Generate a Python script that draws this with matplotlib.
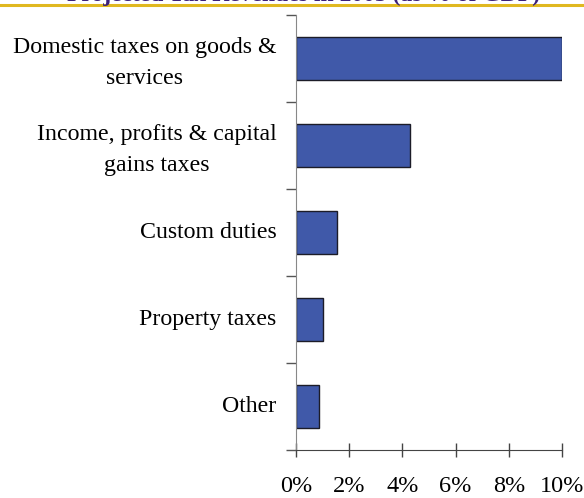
import numpy as np
import matplotlib.pyplot as plt
import matplotlib.transforms as mtransforms
from matplotlib.ticker import MultipleLocator, FuncFormatter

# Revenue categories (top to bottom) and their share of GDP, in percent
categories = ["Domestic taxes on goods &\nservices",
              "Income, profits & capital\ngains taxes",
              "Custom duties",
              "Property taxes",
              "Other"]
share_gdp = [10.0, 4.3, 1.55, 1.02, 0.88]
x_ticks = [0, 2, 4, 6, 8, 10]
title = "Projected Tax Revenues in 2005 (as % of GDP)"

plt.rcParams['font.family'] = ['Liberation Serif', 'DejaVu Serif']

fig = plt.figure(figsize=(5.84, 4.98), dpi=100)
ax = fig.add_axes([296/584, 1 - 450/498, 266/584, 435/498])

pos = np.arange(len(categories))[::-1]
ax.barh(pos, share_gdp, height=0.5, color='#4059A9', edgecolor='#1c1c28', linewidth=1.0)

ax.set_xlim(0, 10)
ax.set_ylim(-0.5, len(categories) - 0.5)
ax.set_xticks(x_ticks)
ax.xaxis.set_major_formatter(FuncFormatter(lambda v, _: f"{v:.0f}%"))
ax.tick_params(axis='x', direction='inout', length=10, width=1, color='#444444',
               labelsize=17.5, pad=14)

ax.set_yticks(pos)
ax.set_yticklabels(categories)
ax.yaxis.set_minor_locator(MultipleLocator(1, offset=0.5))
ax.tick_params(axis='y', which='major', length=0, labelsize=17.2, pad=14)
ax.tick_params(axis='y', which='minor', length=7, width=1, color='#555555')
nudge = mtransforms.ScaledTranslation(0, 3/100, fig.dpi_scale_trans)
for lab in ax.get_yticklabels():
    lab.set_multialignment('center')
    lab.set_linespacing(1.6)
    lab.set_transform(lab.get_transform() + nudge)

for side in ('top', 'right'):
    ax.spines[side].set_visible(False)
ax.spines['left'].set_color('#888888')
ax.spines['bottom'].set_color('#444444')

# header strip: title clipped at the top edge with a gold rule under it
fig.text(0.52, 1 - 0.5/498, title, ha='center', va='baseline', fontsize=17,
         fontweight='bold', color='#3B1F7A')
fig.add_artist(plt.Line2D([0, 1], [1 - 5/498, 1 - 5/498], color='#E0B820', lw=2.2))

fig.savefig('out.png', dpi=100)
